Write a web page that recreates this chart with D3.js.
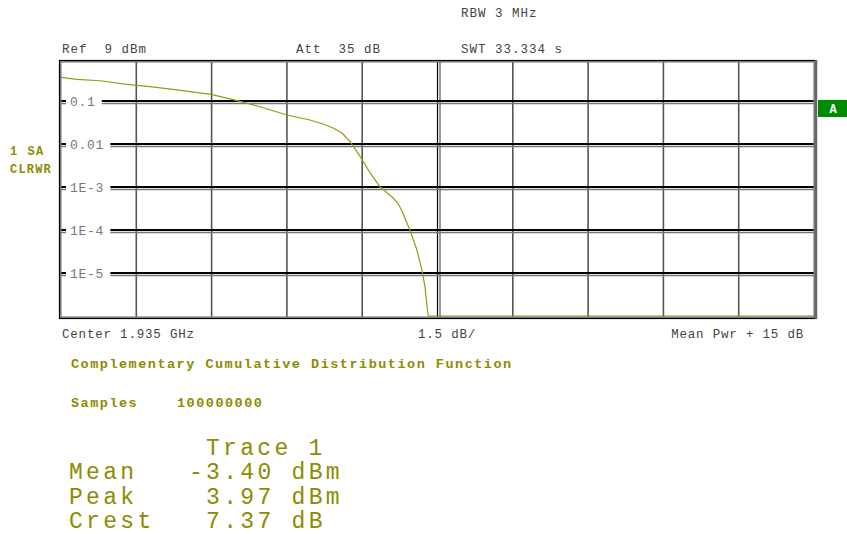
<!DOCTYPE html>
<html><head><meta charset="utf-8">
<script src="https://cdn.jsdelivr.net/npm/d3@7/dist/d3.min.js"></script>
<style>
html,body{margin:0;padding:0;background:#fff;}
svg text{font-family:"Liberation Mono","DejaVu Sans Mono",monospace;white-space:pre;}
</style></head>
<body><svg id="c" width="847" height="534"></svg>
<script>
// ---- data ----
const levelDb = [0.00,0.31,0.78,1.31,1.77,2.23,2.99,3.47,3.96,4.50,4.96,5.22,5.42,5.60,5.76,5.96,6.16,6.35,6.59,6.71,6.81,6.95,7.09,7.19,7.25,7.30,7.32,15.0];
const ccdf = [0.356,0.320,0.296,0.244,0.215,0.187,0.143,0.105,0.0736,0.0472,0.0361,0.0292,0.0236,0.0180,0.0113,0.00507,0.00212,0.00102,0.000594,0.000424,0.000248,0.0001,3.43e-5,1.17e-5,4.8e-6,1.38e-6,1.0e-6,1.0e-6];
const yTickValues = [0.1,0.01,1e-3,1e-4,1e-5];
const yTickLabels = ["0.1","0.01","1E-3","1E-4","1E-5"];
const xTickValues = [0,1.5,3,4.5,6,7.5,9,10.5,12,13.5,15];
const headerTexts = [["RBW 3 MHz",461,17],["Ref  9 dBm",62,53],["Att  35 dB",296,53],["SWT 33.334 s",461,53]];
const footerTexts = ["Center 1.935 GHz","1.5 dB/","Mean Pwr + 15 dB"];
const statRows = [["Mean","-3.40 dBm"],["Peak"," 3.97 dBm"],["Crest"," 7.37 dB"]];

// ---- layout ----
const L=61,R=814,T=62,B=317;
const svg=d3.select("#c");
const x=d3.scaleLinear().domain([0,15]).range([L,R]);
const y=d3.scaleLog().domain([1e-6,0.1]).range([316,101]);
const olive="#8c8c00", trace="#9a9a10";

// header
headerTexts.forEach(([t,px,py])=>svg.append("text").attr("x",px).attr("y",py)
  .attr("font-size",12.5).attr("letter-spacing",1.0).attr("fill","#444").text(t));

// vertical grid
svg.append("g").selectAll("line").data(xTickValues.slice(1,-1)).join("line")
  .attr("x1",d=>x(d)).attr("x2",d=>x(d)).attr("y1",T).attr("y2",B)
  .attr("stroke",d=>d===7.5?"#000":"#555").attr("stroke-width",d=>d===7.5?1.2:1.6);
svg.append("line").attr("x1",x(7.5)+2.5).attr("x2",x(7.5)+2.5).attr("y1",T).attr("y2",B)
  .attr("stroke","#777").attr("stroke-width",1.5);

// horizontal grid with labels
const hg=svg.append("g");
yTickValues.forEach((v,i)=>{
  const yy=y(v);
  hg.append("line").attr("x1",L).attr("x2",R).attr("y1",yy+2.5).attr("y2",yy+2.5).attr("stroke","#777").attr("stroke-width",1.5);
  hg.append("line").attr("x1",L).attr("x2",R).attr("y1",yy).attr("y2",yy).attr("stroke","#000").attr("stroke-width",2);
  hg.append("rect").attr("x",L+5).attr("y",yy-8).attr("width",yTickLabels[i].length*8.6+10).attr("height",16).attr("fill","#fff");
  hg.append("text").attr("x",L+9).attr("y",yy+4.5).attr("font-size",13).attr("letter-spacing",0.7)
    .attr("fill","#777").text(yTickLabels[i]);
});

// trace
svg.append("clipPath").attr("id","clip").append("rect").attr("x",L).attr("y",T).attr("width",R-L).attr("height",B-T);
const line=d3.line().x((d,i)=>x(levelDb[i])).y((d,i)=>y(ccdf[i]));
svg.append("path").datum(ccdf).attr("d",line).attr("fill","none").attr("stroke",trace)
  .attr("stroke-width",1.2).attr("clip-path","url(#clip)");

// frame
svg.append("rect").attr("x",L-1.5).attr("y",T-1.5).attr("width",R-L+3).attr("height",B-T+3)
  .attr("fill","none").attr("stroke","#000").attr("stroke-width",1.2);
svg.append("rect").attr("x",L-0.2).attr("y",T-0.2).attr("width",R-L+0.4).attr("height",B-T+0.4)
  .attr("fill","none").attr("stroke","#777").attr("stroke-width",1.5);
svg.append("line").attr("x1",R+2).attr("x2",R+2).attr("y1",T-2).attr("y2",B+2).attr("stroke","#666").attr("stroke-width",2.5);

// A marker
svg.append("rect").attr("x",818).attr("y",100).attr("width",29).attr("height",17).attr("fill","#008a00");
svg.append("text").attr("x",833).attr("y",113).attr("text-anchor","middle").attr("font-size",12)
  .attr("font-weight","bold").attr("fill","#fff").text("A");

// left labels
svg.append("text").attr("x",10).attr("y",155).attr("font-size",12).attr("font-weight","bold").attr("letter-spacing",1.5).attr("fill",olive).text("1 SA");
svg.append("text").attr("x",10).attr("y",173).attr("font-size",12).attr("font-weight","bold").attr("letter-spacing",1.2).attr("fill",olive).text("CLRWR");

// footer axis texts
svg.append("text").attr("x",62).attr("y",338).attr("font-size",12.5).attr("letter-spacing",0.8).attr("fill","#444").text(footerTexts[0]);
svg.append("text").attr("x",418).attr("y",338).attr("font-size",12.5).attr("letter-spacing",0.8).attr("fill","#444").text(footerTexts[1]);
svg.append("text").attr("x",804).attr("y",338).attr("text-anchor","end").attr("font-size",12.5).attr("letter-spacing",0.8).attr("fill","#444").text(footerTexts[2]);

// info texts
svg.append("text").attr("x",71).attr("y",368).attr("font-size",13.5).attr("font-weight","bold").attr("letter-spacing",1.5).attr("fill",olive).text("Complementary Cumulative Distribution Function");
svg.append("text").attr("x",71).attr("y",407).attr("font-size",13.5).attr("font-weight","bold").attr("letter-spacing",1.5).attr("fill",olive).text("Samples");
svg.append("text").attr("x",177).attr("y",407).attr("font-size",13.5).attr("font-weight","bold").attr("letter-spacing",1.5).attr("fill",olive).text("100000000");

const big={size:23,ls:3.3};
svg.append("text").attr("x",206).attr("y",455).attr("font-size",big.size).attr("letter-spacing",big.ls).attr("fill",olive).text("Trace 1");
statRows.forEach(([k,v],i)=>{
  const yy=479+i*24.5;
  svg.append("text").attr("x",69).attr("y",yy).attr("font-size",big.size).attr("letter-spacing",big.ls).attr("fill",olive).text(k);
  svg.append("text").attr("x",189).attr("y",yy).attr("font-size",big.size).attr("letter-spacing",big.ls).attr("fill",olive).text(v);
});
</script></body></html>
